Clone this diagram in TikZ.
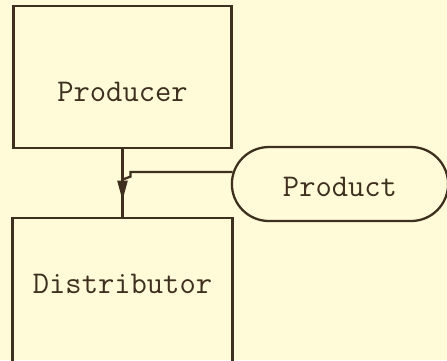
\documentclass[tikz,border=0pt]{standalone}
\usepackage{fontspec}
\usepackage{tikz}
\usetikzlibrary{shapes.misc, arrows.meta, calc}
\definecolor{paper}{HTML}{FFFBD9}
\definecolor{ink}{HTML}{3F2F1F}

\begin{document}
\begin{tikzpicture}[x=0.02cm, y=-0.02cm,
  every node/.style={font=\ttfamily\fontsize{18}{21}\selectfont, text=ink, text depth=0cm},
  block/.style={draw=ink, line width=1.3pt, rectangle},
  item/.style={draw=ink, line width=1.3pt, rounded rectangle}]
% Paper
\fill[paper] (0,0) rectangle (447,360);
\clip (0,0) rectangle (447,360);

% Boxes
\node[block, minimum width=4.36cm, minimum height=2.84cm, text height=0.96cm] (producer) at (122.5,77) {Producer};
\node[block, minimum width=4.4cm, minimum height=2.88cm, text height=0.12cm] (distributor) at (122.5,290) {Distributor};
\node[item, minimum width=4.56cm, minimum height=1.48cm, text height=0.48cm] (product) at (340,184) {Product};

% Flow
\coordinate (tip) at ($(producer.south)!0.76!(distributor.north)$);
\coordinate (merge) at ($(producer.south)!0.45!(distributor.north)$);
\draw[ink, line width=1.3pt] (producer.south) -- (distributor.north);
\draw[ink, line width=1.3pt, -{Triangle[length=0.4cm, width=0.2cm]}] (producer.south) -- (tip);

% Product feed
\coordinate (tap) at ($(product.west)+(2,-12)$);
\draw[ink, line width=1.3pt] (tap) -| ($(merge)+(8,-3)$) -- (merge);
\end{tikzpicture}
\end{document}
